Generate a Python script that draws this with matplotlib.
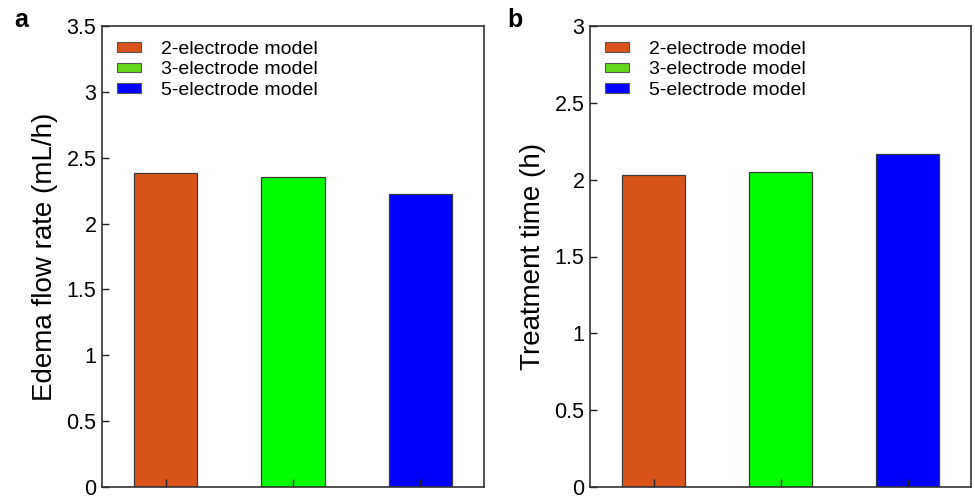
import matplotlib
matplotlib.use("Agg")
import matplotlib.pyplot as plt
from matplotlib.patches import Patch

plt.rcParams['font.family'] = ['Liberation Sans', 'DejaVu Sans']

models = ["2-electrode model", "3-electrode model", "5-electrode model"]
flow_rate = [2.386, 2.356, 2.224]
treat_time = [2.028, 2.050, 2.166]
bar_colors = ["#D9541A", "#00FF00", "#0000FF"]
legend_colors = ["#D9541A", "#66D91A", "#0000FF"]
left_yticks = [0, 0.5, 1, 1.5, 2, 2.5, 3, 3.5]
left_yticklabels = ["0", "0.5", "1", "1.5", "2", "2.5", "3", "3.5"]
right_yticks = [0, 0.5, 1, 1.5, 2, 2.5, 3]
right_yticklabels = ["0", "0.5", "1", "1.5", "2", "2.5", "3"]

fig = plt.figure(figsize=(9.75, 5.0), dpi=100)
ax1 = fig.add_axes([102/975, 1-487/500, 382/975, 461/500])
ax2 = fig.add_axes([590/975, 1-487/500, 381/975, 461/500])

def draw(ax, vals, ylim, yticks, yticklabels, ylabel):
    x = list(range(1, len(vals)+1))
    ax.bar(x, vals, width=0.5, color=bar_colors, edgecolor="#3a3a3a", linewidth=0.9)
    ax.set_xlim(0.5, 3.5)
    ax.set_ylim(*ylim)
    ax.set_xticks(x)
    ax.set_xticklabels([])
    ax.set_yticks(yticks)
    ax.set_yticklabels(yticklabels)
    ax.tick_params(axis='both', direction='in', length=5, width=1, color='#222222', labelsize=15.5, pad=4)
    ax.tick_params(axis='x', length=6)
    for s in ax.spines.values():
        s.set_linewidth(1.2)
        s.set_color('#333333')
    ax.set_ylabel(ylabel, fontsize=20, labelpad=6)
    handles = [Patch(facecolor=c, edgecolor='#555555', linewidth=0.8) for c in legend_colors]
    ax.legend(handles, models, loc='upper left', bbox_to_anchor=(0.0, 1.0), frameon=False,
              fontsize=14, handlelength=1.25, handleheight=0.4, handletextpad=1.05,
              labelspacing=0.2, borderaxespad=0.45, borderpad=0.3)

draw(ax1, flow_rate, (0, 3.5), left_yticks, left_yticklabels, "Edema flow rate (mL/h)")
draw(ax2, treat_time, (0, 3), right_yticks, right_yticklabels, "Treatment time (h)")

fig.text(14/975, 1-20/500, "a", fontsize=18, fontweight='bold', va='center', ha='left')
fig.text(507/975, 1-20/500, "b", fontsize=18, fontweight='bold', va='center', ha='left')

fig.savefig("out.png", dpi=100)
